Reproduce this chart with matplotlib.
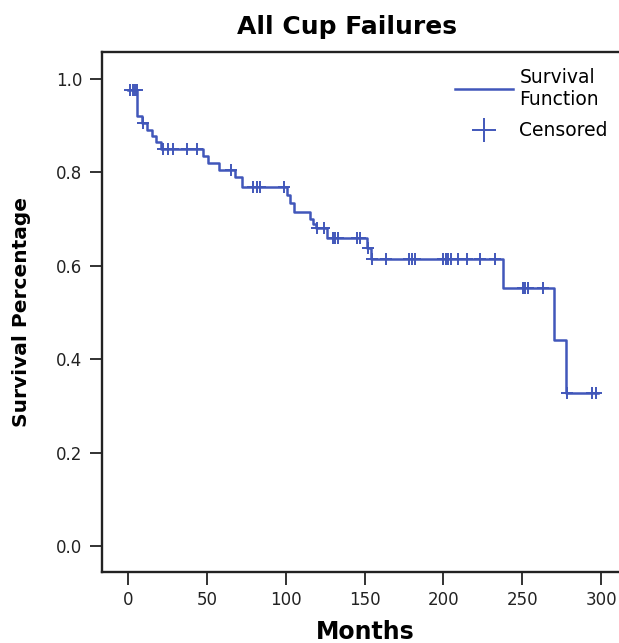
import numpy as np
import matplotlib
matplotlib.use("Agg")
import matplotlib.pyplot as plt
from matplotlib.lines import Line2D

plt.rcParams['font.family'] = ['DejaVu Sans']

BLUE = '#4157ba'

# step times (months) and survival level after each step
step_times = [0, 6, 9, 12, 15, 18, 21, 47.5, 51, 58, 68, 72, 101, 103, 105,
              115.5, 117, 119, 126, 151.5, 154, 238, 270, 278]
step_surv = [0.976, 0.92, 0.905, 0.89, 0.878, 0.865, 0.85, 0.835, 0.82, 0.805,
             0.79, 0.769, 0.752, 0.735, 0.715, 0.70, 0.69, 0.68, 0.66, 0.638,
             0.615, 0.552, 0.441, 0.328]

# censored observation times (months)
censored = [1, 3, 4.5, 5.5, 9.5, 22, 25.4, 28.5, 37.5, 43.8, 65, 79.3, 82, 84,
            99, 119.8, 124.5, 130, 131.3, 133, 145, 147, 152, 155, 163.6, 178,
            180, 182, 199.7, 201.6, 203, 204.8, 209, 215, 223, 232.7, 250.5,
            251.7, 253.6, 263, 278.4, 294, 296.5]

end_time = 298

fig = plt.figure(figsize=(6.19, 6.43), dpi=100)
ax = fig.add_axes([102 / 619, 71 / 643, 538 / 619, 520 / 643])

t = list(step_times) + [end_time]
s = list(step_surv) + [step_surv[-1]]
ax.step(t, s, where='post', color=BLUE, lw=1.8)

idx = np.searchsorted(step_times, censored, side='right') - 1
cens_s = np.array(step_surv)[idx]
ax.plot(censored, cens_s, ls='none', marker='+', ms=8, mew=1.4, color=BLUE)

ax.set_xlim(-16.5, 324.7)
ax.set_ylim(-0.0557, 1.058)
ax.set_xticks([0, 50, 100, 150, 200, 250, 300])
ax.set_yticks([0.0, 0.2, 0.4, 0.6, 0.8, 1.0])
ax.set_yticklabels(['0.0', '0.2', '0.4', '0.6', '0.8', '1.0'])
ax.tick_params(direction='out', length=9, width=1.3, labelsize=12, pad=5,
               colors='#222222')
for sp in ax.spines.values():
    sp.set_linewidth(1.7)
    sp.set_color('#222222')

fig.text(365 / 619, 1 - 632 / 643, 'Months', fontsize=17, fontweight='bold',
         ha='center', va='center')
fig.text(22 / 619, 1 - 312 / 643, 'Survival Percentage', fontsize=14.5,
         fontweight='bold', ha='center', va='center', rotation=90)
fig.text(347 / 619, 1 - 27 / 643, 'All Cup Failures', fontsize=18,
         fontweight='bold', ha='center', va='center')

handles = [Line2D([], [], color=BLUE, lw=1.8),
           Line2D([], [], ls='none', marker='+', ms=17, mew=1.4, color=BLUE)]
fig.legend(handles, ['Survival\nFunction', 'Censored'], loc='upper left',
           bbox_to_anchor=(455 / 619, 1 - 68 / 643), frameon=False,
           fontsize=13.5, handlelength=3.1, handletextpad=0.33,
           labelspacing=0.65, borderpad=0, borderaxespad=0)

fig.savefig('out.png', dpi=100)
